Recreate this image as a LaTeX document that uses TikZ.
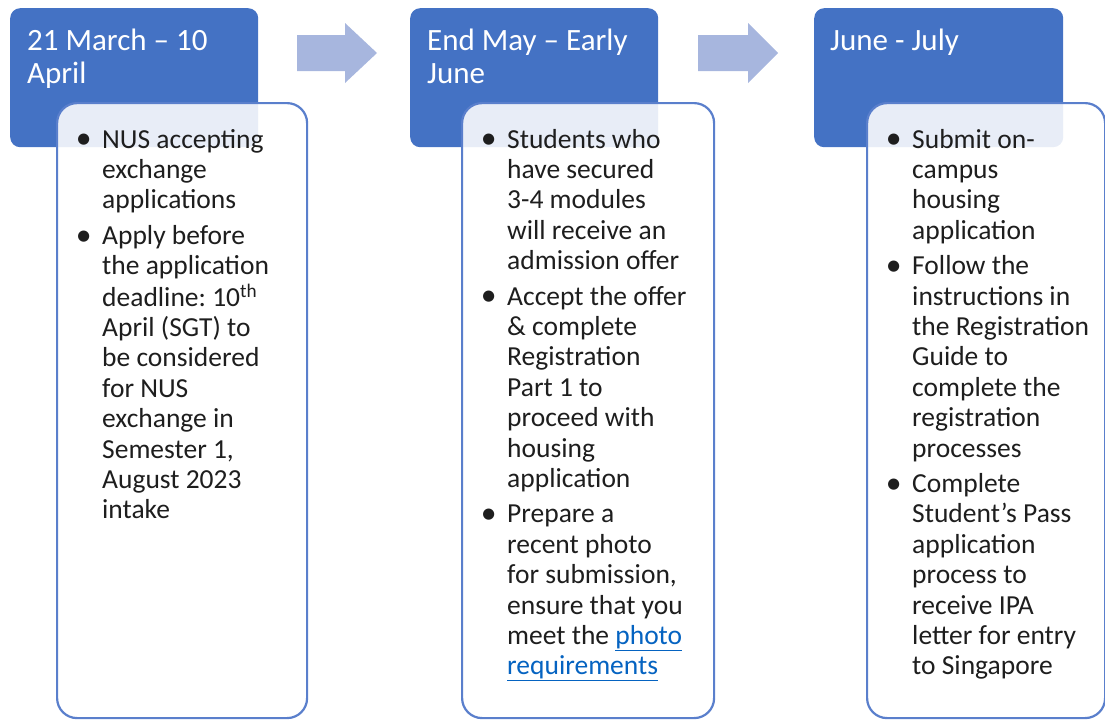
\documentclass[tikz,border=0pt]{standalone}
\usepackage{fontspec}
\setmainfont{Carlito}
\frenchspacing
\definecolor{hdr}{HTML}{4472C4}
\definecolor{brd}{HTML}{5A7FCC}
\definecolor{arr}{HTML}{A7B6DE}
\definecolor{txt}{HTML}{1E1E1E}
\definecolor{lnk}{HTML}{0563C1}
\newcommand\bpt{\llap{\raisebox{-0.8pt}{\scalebox{1.15}{\textbullet}}\hspace{10.5pt}}}
\newcommand\lnkul[1]{\textcolor{lnk}{\underline{#1}}}
\tikzset{
  hdrbox/.style={fill=hdr, draw=none, rounded corners=10pt, anchor=north west, inner sep=0},
  bodybox/.style={fill=white, fill opacity=0.88, draw=brd, draw opacity=1, line width=2.2pt, rounded corners=20pt, anchor=north west, inner sep=0},
  hdrtext/.style={anchor=base west, text=white, inner sep=0, font=\fontsize{31}{33}\selectfont},
  bodytext/.style={anchor=base west, text=txt, inner sep=0, font=\fontsize{27.5}{30.4}\selectfont},
  arrowshape/.style={fill=arr, draw=none}
}
\begin{document}
\begin{tikzpicture}[x=1pt,y=-1pt]
\useasboundingbox (0,0) rectangle (1105,720);
% column 1
\node[hdrbox, minimum width=248pt, minimum height=139pt] (h1) at (10,8) {};
\node[bodybox, minimum width=250pt, minimum height=615pt] (b1) at (56,102) {};
\node[hdrtext] (t1) at (27,50) {\begin{tabular}[t]{@{}l@{}}21 March -- 10\\April\end{tabular}};
\node[bodytext] (c1) at (102,148) {\begin{tabular}[t]{@{}l@{}}
\bpt NUS accepting\\ exchange\\ applications\\[5pt]
\bpt Apply before\\ the application\\ deadline: 10\textsuperscript{th}\\ April (SGT) to\\ be considered\\ for NUS\\ exchange in\\ Semester 1,\\ August 2023\\ intake
\end{tabular}};
% arrow 1
\fill[arrowshape] (297,35) -- (345,35) -- (345,23) -- (377,53) -- (345,83) -- (345,71) -- (297,71) -- cycle;
% column 2
\node[hdrbox, minimum width=248pt, minimum height=139pt] (h2) at (410,8) {};
\node[bodybox, minimum width=252pt, minimum height=615pt] (b2) at (461,102) {};
\node[hdrtext] (t2) at (427,50) {\begin{tabular}[t]{@{}l@{}}End May -- Early\\June\end{tabular}};
\node[bodytext] (c2) at (507,148) {\begin{tabular}[t]{@{}l@{}}
\bpt Students who\\ have secured\\ 3-4 modules\\ will receive an\\ admission offer\\[5pt]
\bpt Accept the offer\\ \& complete\\ Registration\\ Part 1 to\\ proceed with\\ housing\\ application\\[5pt]
\bpt Prepare a\\ recent photo\\ for submission,\\ ensure that you\\ meet the \lnkul{photo}\\ \lnkul{requirements}
\end{tabular}};
% arrow 2
\fill[arrowshape] (698,35) -- (748,35) -- (748,23) -- (778,53) -- (748,83) -- (748,71) -- (698,71) -- cycle;
% column 3
\node[hdrbox, minimum width=249pt, minimum height=139pt] (h3) at (814,8) {};
\node[bodybox, minimum width=238pt, minimum height=615pt] (b3) at (866,102) {};
\node[hdrtext] (t3) at (830,50) {June - July};
\node[bodytext] (c3) at (912,148) {\begin{tabular}[t]{@{}l@{}}
\bpt Submit on-\\ campus\\ housing\\ application\\[5pt]
\bpt Follow the\\ instructions in\\ the Registration\\ Guide to\\ complete the\\ registration\\ processes\\[5pt]
\bpt Complete\\ Student’s Pass\\ application\\ process to\\ receive IPA\\ letter for entry\\ to Singapore
\end{tabular}};
\end{tikzpicture}
\end{document}
